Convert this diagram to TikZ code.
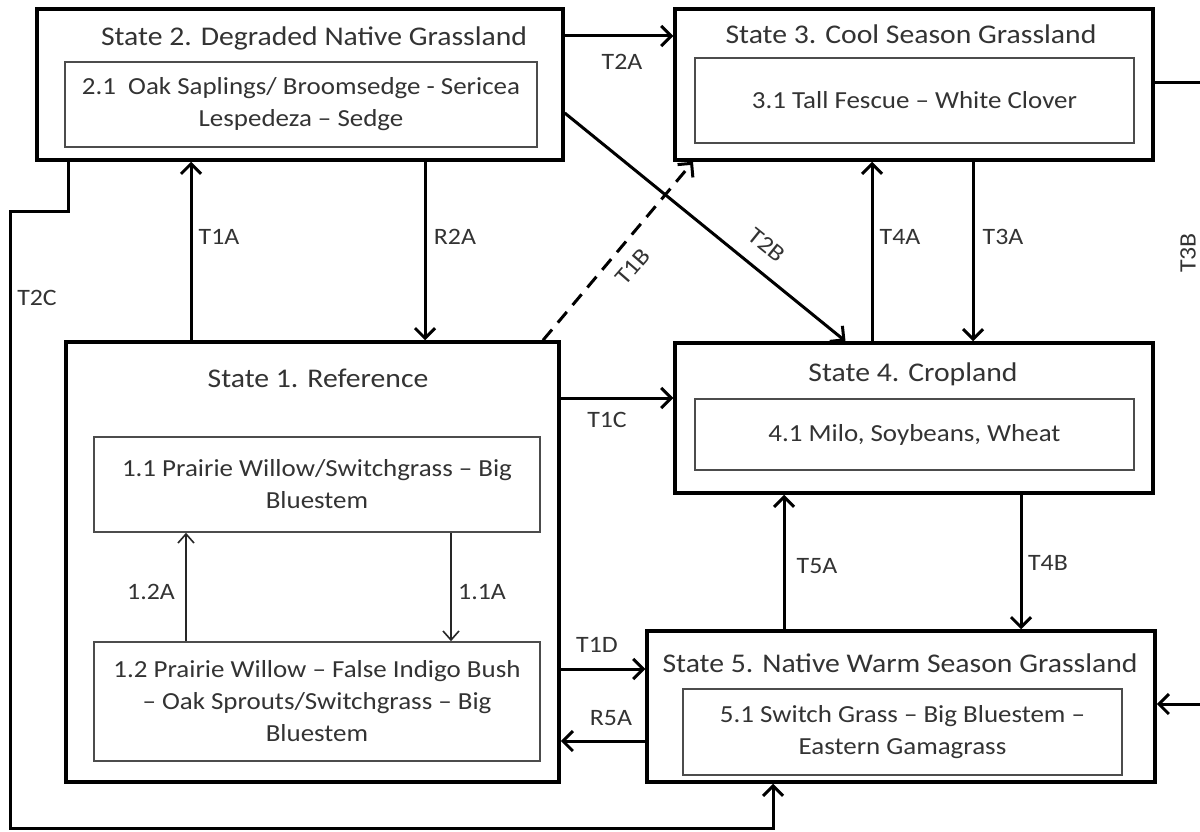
\documentclass[tikz,border=0pt]{standalone}
\usepackage{fontspec}
\setmainfont{Carlito}[FakeStretch=1.1]
\usetikzlibrary{arrows.meta}
\begin{document}
\begin{tikzpicture}[x=1pt,y=-1pt,
  outer/.style={draw=black,line width=3.5pt,inner sep=0pt,rectangle},
  inner/.style={draw=black!70,line width=1.6pt,inner sep=0pt,rectangle,align=center,
    text=black!80,font=\fontsize{24.5}{32}\selectfont},
  ttl/.style={text=black!80,font=\fontsize{27}{34}\selectfont,inner sep=0pt},
  lbl/.style={text=black!80,font=\fontsize{23.5}{28}\selectfont,inner sep=0pt},
  arr/.style={draw=black,line width=3pt,-{Straight Barb[length=10pt,width=20pt]}},
  thinarr/.style={draw=black!85,line width=1.6pt,-{Straight Barb[length=9pt,width=16pt]}},
  dasharr/.style={arr,dash pattern=on 14pt off 9pt}]
\fill[white] (0,0) rectangle (1200,832);
\useasboundingbox (0,0) rectangle (1200,832);
\clip (0,0) rectangle (1200,832);

% State boxes
\node[outer,minimum width=526pt,minimum height=151pt] (s2) at (300,84.5) {};
\node[ttl] (s2t) at (314,38) {State 2. Degraded Native Grassland};
\node[inner,minimum width=472pt,minimum height=85pt] (b21) at (301,104.5)
  {2.1\ \ Oak Saplings/ Broomsedge - Sericea\\Lespedeza -- Sedge};

\node[outer,minimum width=478pt,minimum height=151pt] (s3) at (914,84.5) {};
\node[ttl] (s3t) at (911,34) {State 3. Cool Season Grassland};
\node[inner,minimum width=439pt,minimum height=85pt] (b31) at (914.5,100.5)
  {3.1 Tall Fescue -- White Clover};

\node[outer,minimum width=493pt,minimum height=440pt] (s1) at (312.5,562) {};
\node[ttl] (s1t) at (318,378) {State 1. Reference};
\node[inner,minimum width=446pt,minimum height=95pt] (b11) at (317,484.5)
  {1.1 Prairie Willow/Switchgrass -- Big\\Bluestem};
\node[inner,minimum width=446pt,minimum height=119pt] (b12) at (317,701.5)
  {1.2 Prairie Willow -- False Indigo Bush\\-- Oak Sprouts/Switchgrass -- Big\\Bluestem};

\node[outer,minimum width=478pt,minimum height=150pt] (s4) at (914,418) {};
\node[ttl] (s4t) at (913,374) {State 4. Cropland};
\node[inner,minimum width=439pt,minimum height=71pt] (b41) at (914.5,434.5)
  {4.1 Milo, Soybeans, Wheat};

\node[outer,minimum width=508pt,minimum height=151pt] (s5) at (901,706.5) {};
\node[ttl] (s5t) at (900,663) {State 5. Native Warm Season Grassland};
\node[inner,minimum width=439pt,minimum height=86pt] (b51) at (902.5,732)
  {5.1 Switch Grass -- Big Bluestem --\\Eastern Gamagrass};

% Connectors
\draw[arr] ([yshift=48.5pt]s2.east) -- ([yshift=48.5pt]s3.west);
\draw[arr] ([xshift=-121.5pt]s1.north) -- ([xshift=-109pt]s2.south);
\draw[arr] ([xshift=125pt]s2.south) -- ([xshift=112.5pt]s1.north);
\draw[arr] ([xshift=-232pt]s2.south) -- ++(0,50) -| (10,828) -| ([xshift=-128pt]s5.south);
\draw[dasharr] ([xshift=230.5pt]s1.north) -- ([xshift=-221pt]s3.south);
\draw[arr] ([yshift=-28.5pt]s2.east) -- ([xshift=-68.5pt]s4.north);
\draw[arr] ([xshift=-42pt]s4.north) -- ([xshift=-42pt]s3.south);
\draw[arr] ([xshift=59pt]s3.south) -- ([xshift=59pt]s4.north);
\draw[arr] ([yshift=1.5pt]s3.east) -- (1206,83) |- ([yshift=2.5pt]s5.east);
\draw[arr] ([yshift=164pt]s1.east) -- ([yshift=20pt]s4.west);
\draw[arr] ([xshift=-117pt]s5.north) -- ([xshift=-130pt]s4.south);
\draw[arr] ([xshift=107pt]s4.south) -- ([xshift=120pt]s5.north);
\draw[arr] ([yshift=-107pt]s1.east) -- ([yshift=37.5pt]s5.west);
\draw[arr] ([yshift=-34.5pt]s5.west) -- ([yshift=-179pt]s1.east);
\draw[thinarr] ([xshift=-131pt]b12.north) -- ([xshift=-131pt]b11.south);
\draw[thinarr] ([xshift=134pt]b11.south) -- ([xshift=134pt]b12.north);

% Labels
\node[lbl] (lT2A) at (622,62) {T2A};
\node[lbl] (lT1A) at (219,237) {T1A};
\node[lbl] (lR2A) at (455,237) {R2A};
\node[lbl] (lT2C) at (37,298) {T2C};
\node[lbl,rotate=49] (lT1B) at (633,267) {T1B};
\node[lbl,rotate=-39] (lT2B) at (767,245) {T2B};
\node[lbl] (lT4A) at (900,237) {T4A};
\node[lbl] (lT3A) at (1003,237) {T3A};
\node[lbl,rotate=90] (lT3B) at (1188,253) {T3B};
\node[lbl] (lT1C) at (607,420) {T1C};
\node[lbl] (lT5A) at (817,566) {T5A};
\node[lbl] (lT4B) at (1048,563) {T4B};
\node[lbl] (lT1D) at (597,645) {T1D};
\node[lbl] (lR5A) at (611,718) {R5A};
\node[lbl] (l12A) at (151,592) {1.2A};
\node[lbl] (l11A) at (482,592) {1.1A};
\end{tikzpicture}
\end{document}
